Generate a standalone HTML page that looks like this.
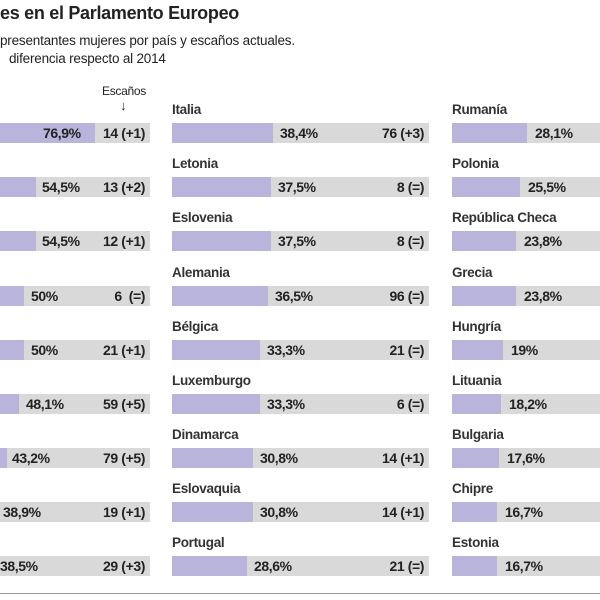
<!DOCTYPE html><html><head><meta charset="utf-8"><style>
body{margin:0;width:600px;height:600px;background:#fff;position:relative;overflow:hidden;font-family:"Liberation Sans",sans-serif;color:#222}
.t{position:absolute;white-space:nowrap}
.bar{position:absolute;height:20px;background:#d9d9d9;font-size:14px;font-weight:bold;line-height:20px;letter-spacing:-0.4px}
.bar i{position:absolute;left:0;top:0;height:20px;background:#b8b4dc}
.bar b{position:absolute;top:0;font-weight:bold}
.lab{position:absolute;font-size:13.5px;font-weight:bold;color:#333;letter-spacing:-0.3px;white-space:nowrap}
.c1{left:0;width:150px}.c2{left:172px;width:257px}.c3{left:452px;width:148px}
.s{right:5px}
</style></head><body>
<div class="t" style="left:0;top:3px;font-size:18px;font-weight:bold;letter-spacing:-0.3px">es en el Parlamento Europeo</div>
<div class="t" style="left:0;top:33px;font-size:13.5px;letter-spacing:-0.2px">presentantes mujeres por país y escaños actuales.</div>
<div class="t" style="left:9px;top:51px;font-size:13.5px;letter-spacing:-0.2px">diferencia respecto al 2014</div>
<div class="t" style="left:102px;top:84px;font-size:12px;letter-spacing:-0.3px">Escaños</div>
<div class="t" style="left:120px;top:98px;font-size:13px">↓</div>

<div class="bar c1" style="top:123px"><i style="width:95px"></i><b style="left:43px">76,9%</b><b class="s">14 (+1)</b></div>
<div class="bar c1" style="top:177px"><i style="width:36px"></i><b style="left:42px">54,5%</b><b class="s">13 (+2)</b></div>
<div class="bar c1" style="top:231px"><i style="width:36px"></i><b style="left:42px">54,5%</b><b class="s">12 (+1)</b></div>
<div class="bar c1" style="top:286px"><i style="width:24px"></i><b style="left:31px">50%</b><b class="s">6 &nbsp;(=)</b></div>
<div class="bar c1" style="top:340px"><i style="width:24px"></i><b style="left:31px">50%</b><b class="s">21 (+1)</b></div>
<div class="bar c1" style="top:394px"><i style="width:19px"></i><b style="left:26px">48,1%</b><b class="s">59 (+5)</b></div>
<div class="bar c1" style="top:448px"><i style="width:7px"></i><b style="left:12px">43,2%</b><b class="s">79 (+5)</b></div>
<div class="bar c1" style="top:502px"><b style="left:3px">38,9%</b><b class="s">19 (+1)</b></div>
<div class="bar c1" style="top:556px"><b style="left:0px">38,5%</b><b class="s">29 (+3)</b></div>

<div class="lab" style="left:172px;top:102px">Italia</div>
<div class="bar c2" style="top:123px"><i style="width:101px"></i><b style="left:108px">38,4%</b><b class="s">76 (+3)</b></div>
<div class="lab" style="left:172px;top:156px">Letonia</div>
<div class="bar c2" style="top:177px"><i style="width:99px"></i><b style="left:106px">37,5%</b><b class="s">8 (=)</b></div>
<div class="lab" style="left:172px;top:210px">Eslovenia</div>
<div class="bar c2" style="top:231px"><i style="width:99px"></i><b style="left:106px">37,5%</b><b class="s">8 (=)</b></div>
<div class="lab" style="left:172px;top:265px">Alemania</div>
<div class="bar c2" style="top:286px"><i style="width:96px"></i><b style="left:103px">36,5%</b><b class="s">96 (=)</b></div>
<div class="lab" style="left:172px;top:319px">Bélgica</div>
<div class="bar c2" style="top:340px"><i style="width:88px"></i><b style="left:95px">33,3%</b><b class="s">21 (=)</b></div>
<div class="lab" style="left:172px;top:373px">Luxemburgo</div>
<div class="bar c2" style="top:394px"><i style="width:88px"></i><b style="left:95px">33,3%</b><b class="s">6 (=)</b></div>
<div class="lab" style="left:172px;top:427px">Dinamarca</div>
<div class="bar c2" style="top:448px"><i style="width:81px"></i><b style="left:88px">30,8%</b><b class="s">14 (+1)</b></div>
<div class="lab" style="left:172px;top:481px">Eslovaquia</div>
<div class="bar c2" style="top:502px"><i style="width:81px"></i><b style="left:88px">30,8%</b><b class="s">14 (+1)</b></div>
<div class="lab" style="left:172px;top:535px">Portugal</div>
<div class="bar c2" style="top:556px"><i style="width:75px"></i><b style="left:82px">28,6%</b><b class="s">21 (=)</b></div>

<div class="lab" style="left:452px;top:102px">Rumanía</div>
<div class="bar c3" style="top:123px"><i style="width:75px"></i><b style="left:83px">28,1%</b></div>
<div class="lab" style="left:452px;top:156px">Polonia</div>
<div class="bar c3" style="top:177px"><i style="width:68px"></i><b style="left:76px">25,5%</b></div>
<div class="lab" style="left:452px;top:210px">República Checa</div>
<div class="bar c3" style="top:231px"><i style="width:64px"></i><b style="left:72px">23,8%</b></div>
<div class="lab" style="left:452px;top:265px">Grecia</div>
<div class="bar c3" style="top:286px"><i style="width:64px"></i><b style="left:72px">23,8%</b></div>
<div class="lab" style="left:452px;top:319px">Hungría</div>
<div class="bar c3" style="top:340px"><i style="width:51px"></i><b style="left:59px">19%</b></div>
<div class="lab" style="left:452px;top:373px">Lituania</div>
<div class="bar c3" style="top:394px"><i style="width:49px"></i><b style="left:57px">18,2%</b></div>
<div class="lab" style="left:452px;top:427px">Bulgaria</div>
<div class="bar c3" style="top:448px"><i style="width:47px"></i><b style="left:55px">17,6%</b></div>
<div class="lab" style="left:452px;top:481px">Chipre</div>
<div class="bar c3" style="top:502px"><i style="width:45px"></i><b style="left:53px">16,7%</b></div>
<div class="lab" style="left:452px;top:535px">Estonia</div>
<div class="bar c3" style="top:556px"><i style="width:45px"></i><b style="left:53px">16,7%</b></div>

<div style="position:absolute;left:0;top:593px;width:600px;height:1px;background:#999"></div>
</body></html>
